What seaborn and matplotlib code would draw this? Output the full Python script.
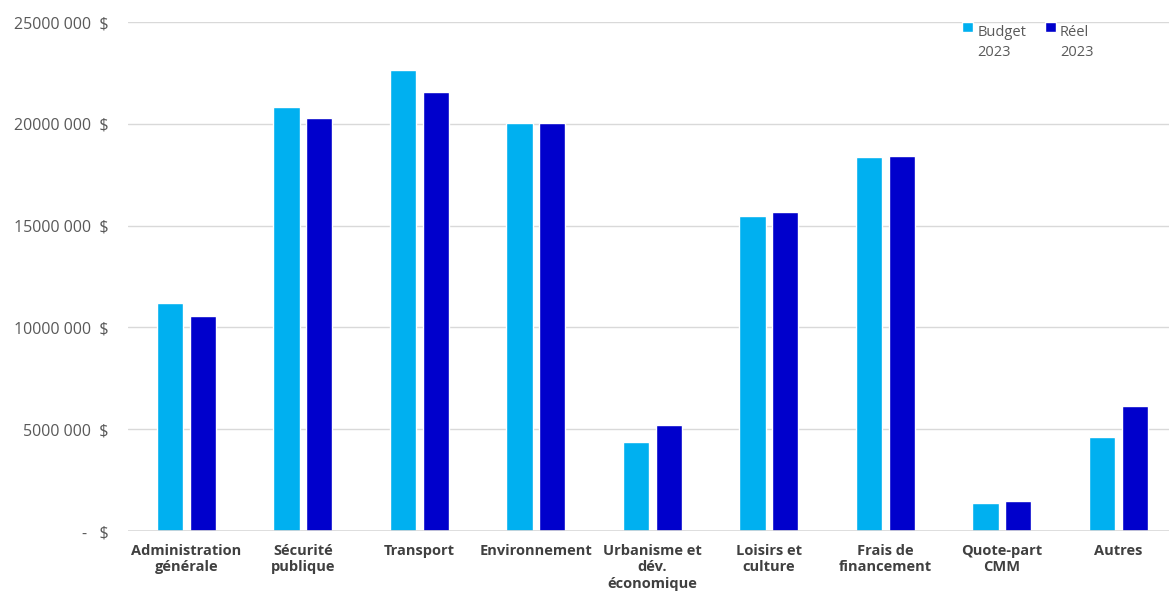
import matplotlib
matplotlib.use("Agg")
import matplotlib.pyplot as plt
import matplotlib.ticker as mticker
from matplotlib.legend_handler import HandlerPatch
from matplotlib.patches import Rectangle
import pandas as pd
import seaborn as sns

# data
categories = ["Administration\ngénérale", "Sécurité\npublique", "Transport",
              "Environnement", "Urbanisme et\ndév.\néconomique", "Loisirs et\nculture",
              "Frais de\nfinancement", "Quote-part\nCMM", "Autres"]
budget_2023 = [11200000, 20830000, 22620000, 20020000, 4370000,
               15470000, 18380000, 1380000, 4620000]
reel_2023 = [10560000, 20280000, 21580000, 20060000, 5230000,
             15670000, 18420000, 1470000, 6150000]
series = ["Budget\n2023", "Réel\n2023"]
colors = ["#00B0F0", "#0000CC"]

df = pd.DataFrame({
    "categorie": categories * 2,
    "montant": budget_2023 + reel_2023,
    "serie": [series[0]] * len(categories) + [series[1]] * len(categories),
})

sns.set_style("white")
plt.rcParams["font.family"] = ["Open Sans", "DejaVu Sans"]

fig = plt.figure(figsize=(11.69, 6.03), dpi=100)
ax = fig.add_axes([0.1095, 0.1194, 0.897, 0.8441])

sns.barplot(data=df, x="categorie", y="montant", hue="serie", palette=colors,
            width=0.56, gap=0.2, ax=ax, saturation=1, errorbar=None)

ax.set_xlim(-0.5, len(categories) - 0.5)
ax.set_ylim(0, 25000000)
ax.set_yticks(range(0, 25000001, 5000000))


def fmt_dollars(v, pos):
    if v == 0:
        return "-   $"
    v = int(round(v))
    return f"{v // 1000} {v % 1000:03d}  $"


ax.yaxis.set_major_formatter(mticker.FuncFormatter(fmt_dollars))
ax.grid(axis="y", color="#D9D9D9", linewidth=1)
ax.set_axisbelow(True)
for s in ax.spines.values():
    s.set_visible(False)
ax.axhline(0, color="#D9D9D9", linewidth=1.2)

ax.tick_params(axis="y", length=0, pad=14, labelsize=11.5, labelcolor="#595959")
ax.tick_params(axis="x", length=0, pad=9, labelsize=10.5, labelcolor="#404040")
for lbl in ax.get_xticklabels():
    lbl.set_fontweight("bold")
    lbl.set_linespacing(1.25)
ax.set_xlabel("")
ax.set_ylabel("")


# legend square lined up with the first text line, not the last
def square_top(legend, orig_handle, xdescent, ydescent, width, height, fontsize):
    return Rectangle((-xdescent, -ydescent + fontsize * 1.1), width, height)


handles, labels = ax.get_legend_handles_labels()
leg = ax.legend(handles, labels, loc="upper left", bbox_to_anchor=(0.79, 1.005), ncol=2,
                frameon=False, fontsize=10.5, handlelength=0.75, handleheight=0.75,
                handletextpad=0.3, columnspacing=1.25, borderaxespad=0,
                handler_map={h: HandlerPatch(patch_func=square_top) for h in handles})
for t in leg.get_texts():
    t.set_color("#595959")
    t.set_linespacing(1.45)

fig.savefig("out.png", dpi=100)
